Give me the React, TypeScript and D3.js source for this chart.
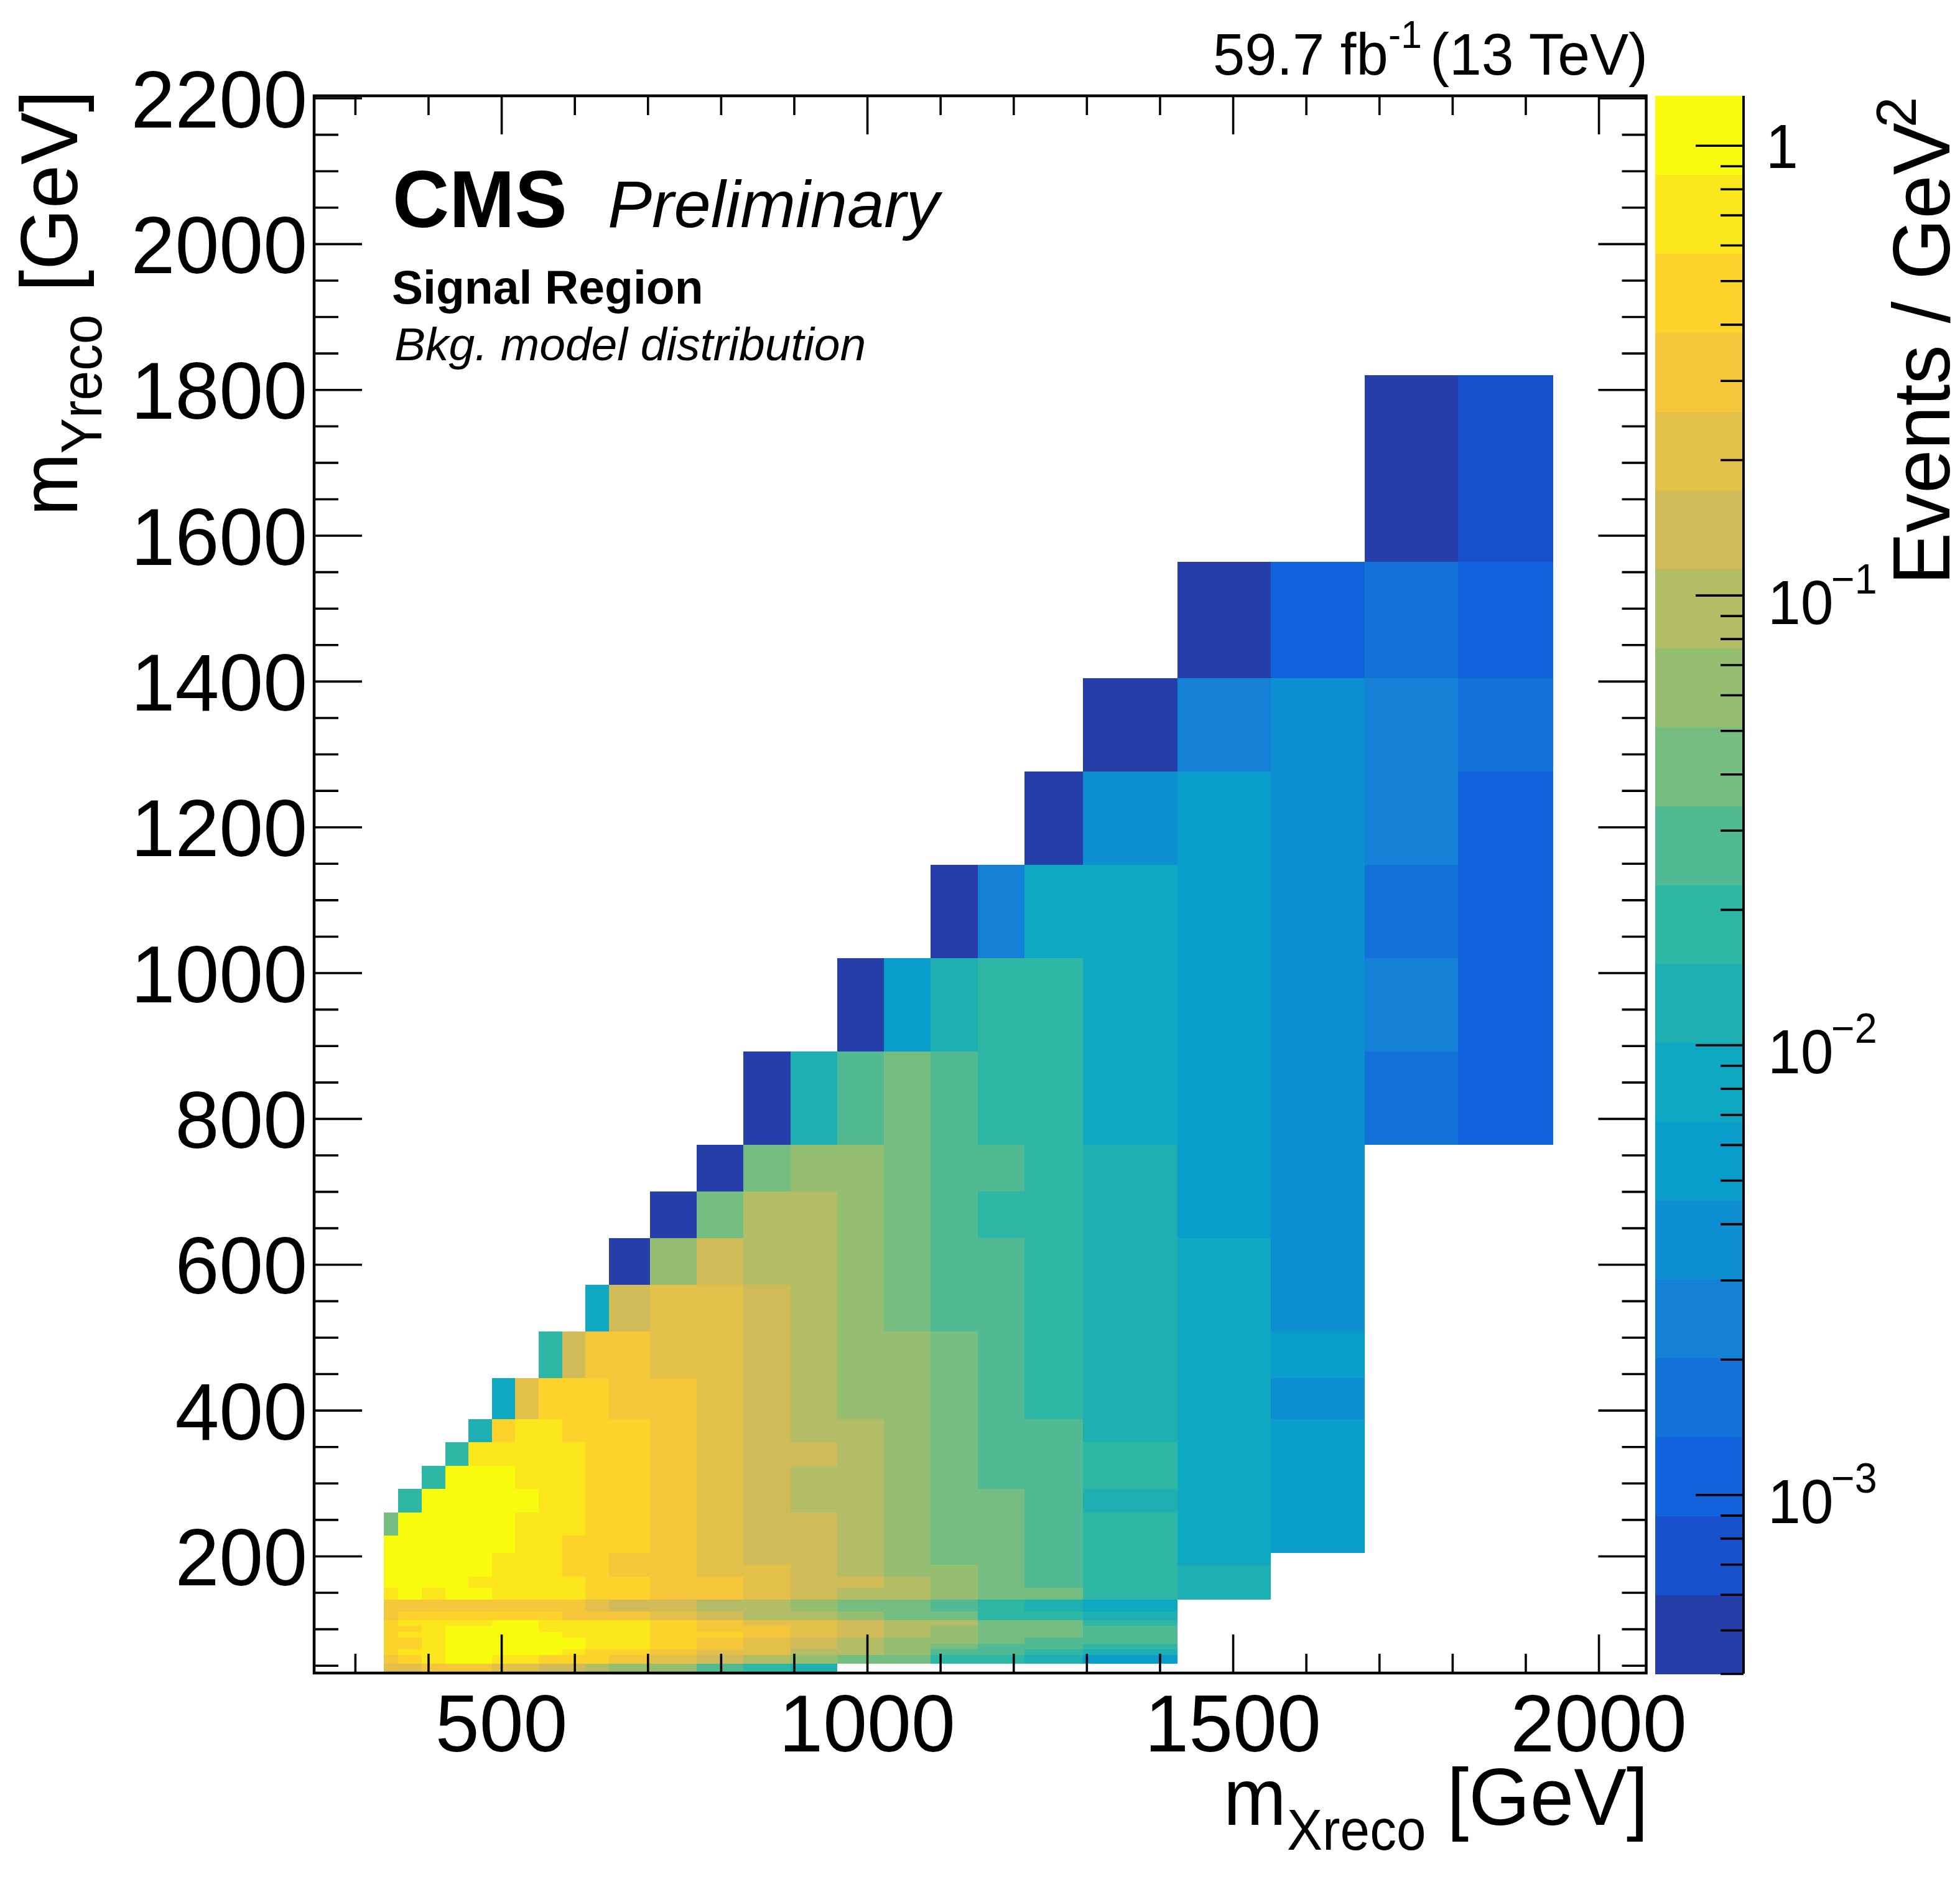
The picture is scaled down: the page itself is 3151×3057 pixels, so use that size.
import { useRef, useEffect } from "react";
import * as d3 from "d3";

const _ = -1;

// Bin edges in GeV
const xEdges = [
  339, 359, 391, 423, 455, 487, 519, 551, 583, 615, 647, 703, 767, 831, 895,
  959, 1023, 1087, 1151, 1215, 1295, 1424, 1552, 1680, 1808, 1938,
];
const yEdges = [
  40, 52, 64, 72, 80, 88, 96, 104, 112, 124, 140, 156, 172, 188, 204, 228, 260,
  292, 324, 356, 388, 444, 508, 572, 636, 700, 764, 892, 1020, 1148, 1276, 1404,
  1564, 1820,
];

const binBands = [
  [15, 15, 16, 16, 16, 15, 15, 14, 14, 13, 12, 12, 10, 9, 8, _, _, _, _, _, _, _, _, _, _],
  [16, 17, 18, 19, 19, 18, 18, 17, 17, 17, 16, 15, 14, 13, 12, 11, 11, 9, 9, 8, 6, _, _, _, _],
  [17, 18, 18, 19, 19, 19, 19, 19, 18, 17, 17, 16, 15, 15, 13, 13, 12, 10, 10, 9, 8, _, _, _, _],
  [17, 17, 18, 19, 19, 19, 19, 19, 19, 18, 18, 17, 16, 15, 14, 13, 12, 11, 10, 10, 9, _, _, _, _],
  [17, 17, 18, 19, 19, 19, 19, 19, 19, 18, 18, 17, 16, 15, 14, 13, 12, 12, 11, 10, 10, _, _, _, _],
  [17, 18, 18, 19, 19, 19, 19, 19, 18, 18, 18, 17, 17, 16, 15, 14, 13, 12, 11, 11, 10, _, _, _, _],
  [17, 17, 18, 19, 19, 19, 19, 18, 18, 18, 18, 17, 16, 16, 15, 14, 13, 12, 11, 11, 10, _, _, _, _],
  [17, 18, 18, 18, 18, 19, 19, 18, 18, 18, 18, 17, 16, 15, 15, 14, 13, 13, 11, 11, 9, _, _, _, _],
  [16, 17, 17, 17, 17, 17, 17, 17, 16, 16, 16, 15, 14, 13, 13, 12, 11, 11, 9, 9, 8, _, _, _, _],
  [16, 16, 16, 16, 16, 16, 16, 16, 16, 15, 14, 14, 13, 13, 12, 11, 11, 10, 9, 8, 7, _, _, _, _],
  [18, 19, 18, 19, 19, 18, 18, 18, 18, 17, 17, 16, 16, 15, 14, 13, 13, 12, 11, 11, 9, 8, _, _, _],
  [19, 19, 19, 19, 18, 18, 18, 18, 18, 17, 17, 16, 16, 15, 14, 14, 13, 12, 11, 10, 9, 8, _, _, _],
  [19, 19, 19, 19, 19, 18, 18, 18, 17, 17, 16, 16, 15, 15, 14, 13, 12, 12, 11, 10, 9, 8, _, _, _],
  [19, 19, 19, 19, 19, 18, 18, 18, 17, 17, 16, 16, 15, 14, 14, 13, 12, 11, 11, 10, 9, 7, _, _, _],
  [19, 19, 19, 19, 19, 19, 18, 18, 17, 17, 17, 16, 15, 14, 14, 13, 12, 11, 11, 10, 9, 7, 6, _, _],
  [11, 19, 19, 19, 19, 19, 18, 18, 18, 17, 17, 16, 15, 14, 14, 13, 12, 11, 11, 10, 9, 7, 6, _, _],
  [_, 9, 19, 19, 19, 19, 19, 18, 18, 17, 17, 16, 15, 14, 13, 13, 12, 11, 11, 10, 8, 7, 6, _, _],
  [_, _, 9, 19, 19, 19, 18, 18, 18, 17, 17, 16, 15, 14, 13, 13, 12, 11, 10, 10, 9, 7, 6, _, _],
  [_, _, _, 9, 18, 18, 18, 18, 18, 17, 17, 16, 15, 14, 14, 13, 12, 11, 10, 10, 9, 7, 6, _, _],
  [_, _, _, _, 8, 17, 18, 18, 17, 17, 17, 16, 15, 14, 13, 13, 12, 11, 10, 10, 8, 7, 6, _, _],
  [_, _, _, _, _, 7, 15, 17, 17, 17, 16, 16, 15, 14, 13, 12, 12, 11, 10, 9, 8, 7, 5, _, _],
  [_, _, _, _, _, _, _, 9, 14, 16, 16, 15, 15, 14, 13, 12, 12, 11, 10, 9, 8, 7, 6, _, _],
  [_, _, _, _, _, _, _, _, _, 7, 14, 15, 15, 14, 13, 12, 11, 10, 10, 9, 8, 7, 5, _, _],
  [_, _, _, _, _, _, _, _, _, _, 0, 12, 14, 13, 13, 12, 11, 10, 10, 9, 8, 7, 5, _, _],
  [_, _, _, _, _, _, _, _, _, _, _, 0, 11, 13, 13, 12, 11, 10, 9, 9, 8, 6, 5, _, _],
  [_, _, _, _, _, _, _, _, _, _, _, _, 0, 11, 12, 12, 11, 10, 10, 9, 8, 6, 5, _, _],
  [_, _, _, _, _, _, _, _, _, _, _, _, _, 0, 8, 10, 11, 10, 9, 9, 7, 6, 5, 3, 2],
  [_, _, _, _, _, _, _, _, _, _, _, _, _, _, _, 0, 6, 8, 9, 9, 7, 6, 5, 4, 2],
  [_, _, _, _, _, _, _, _, _, _, _, _, _, _, _, _, _, 0, 4, 7, 7, 6, 5, 3, 2],
  [_, _, _, _, _, _, _, _, _, _, _, _, _, _, _, _, _, _, _, 0, 5, 6, 5, 4, 2],
  [_, _, _, _, _, _, _, _, _, _, _, _, _, _, _, _, _, _, _, _, 0, 4, 5, 4, 3],
  [_, _, _, _, _, _, _, _, _, _, _, _, _, _, _, _, _, _, _, _, _, 0, 2, 3, 2],
  [_, _, _, _, _, _, _, _, _, _, _, _, _, _, _, _, _, _, _, _, _, _, _, 0, 1],
];

const xMajor = [500, 1000, 1500, 2000];
const xMinor = [300, 400, 600, 700, 800, 900, 1100, 1200, 1300, 1400, 1600, 1700, 1800, 1900];
const yMajor = [200, 400, 600, 800, 1000, 1200, 1400, 1600, 1800, 2000, 2200];
const yMinor = d3.range(50, 2200, 50).filter((v) => v % 200 !== 0);
const zLabels = [
  { value: 1, base: "1", exp: "" },
  { value: 0.1, base: "10", exp: "\u22121" },
  { value: 0.01, base: "10", exp: "\u22122" },
  { value: 0.001, base: "10", exp: "\u22123" },
];

// ROOT kBird palette stops
const birdStops = [
  "#352A87", "#0F5CDD", "#1481D6", "#06A4CA", "#2EB7A4", "#87BF77", "#D1BB59", "#FEC832", "#F9FB0E",
];
const nBands = 20;

const FONT = "'Liberation Sans', Arial, sans-serif";

export default function App() {
  const svgRef = useRef<SVGSVGElement>(null);

  useEffect(() => {
    if (!svgRef.current) return;
    const svg = d3.select(svgRef.current);
    svg.selectAll("*").remove();

    const left = 505, right = 2646.5, top = 154, bottom = 2689;
    const barL = 2661, barR = 2803, barB = 2690;

    const x = d3.scaleLinear().domain([244, 2065]).range([left, right]);
    const y = d3.scaleLinear().domain([39.5, 2203]).range([bottom, top]);
    const z = d3.scaleLog().domain([4.0e-4, 1.289]).range([barB, top]);
    const bandY = d3.scaleLinear().domain([0, nBands]).range([barB, top]);
    const bird = d3
      .scaleLinear<string>()
      .domain(birdStops.map((_s, i) => i / (birdStops.length - 1)))
      .range(birdStops);
    const bandColor = (b: number) => bird((b + 1) / nBands);

    // 2D histogram bins
    const cells = binBands.flatMap((row, r) =>
      row.map((band, c) => ({ band, r, c })).filter((d) => d.band >= 0),
    );
    svg
      .append("g")
      .attr("shape-rendering", "crispEdges")
      .selectAll("rect")
      .data(cells)
      .join("rect")
      .attr("x", (d) => x(xEdges[d.c]))
      .attr("y", (d) => y(yEdges[d.r + 1]))
      .attr("width", (d) => x(xEdges[d.c + 1]) - x(xEdges[d.c]))
      .attr("height", (d) => y(yEdges[d.r]) - y(yEdges[d.r + 1]))
      .attr("fill", (d) => bandColor(d.band));

    // Frame ticks on all four sides
    const drawTicks = (pos: string, axis: any, values: number[], size: number) => {
      const g = svg
        .append("g")
        .attr("transform", pos)
        .call(axis.tickValues(values).tickSize(-size).tickFormat(() => ""));
      g.select(".domain").remove();
      g.selectAll(".tick line").attr("stroke", "#000").attr("stroke-width", 3.6);
    };
    drawTicks(`translate(0,${bottom})`, d3.axisBottom(x), xMajor, 62);
    drawTicks(`translate(0,${bottom})`, d3.axisBottom(x), xMinor, 31);
    drawTicks(`translate(0,${top})`, d3.axisTop(x), xMajor, 62);
    drawTicks(`translate(0,${top})`, d3.axisTop(x), xMinor, 31);
    drawTicks(`translate(${left},0)`, d3.axisLeft(y), yMajor, 77);
    drawTicks(`translate(${left},0)`, d3.axisLeft(y), yMinor, 39);
    drawTicks(`translate(${right},0)`, d3.axisRight(y), yMajor, 77);
    drawTicks(`translate(${right},0)`, d3.axisRight(y), yMinor, 39);

    svg
      .append("rect")
      .attr("x", left)
      .attr("y", top)
      .attr("width", right - left)
      .attr("height", bottom - top)
      .attr("fill", "none")
      .attr("stroke", "#000")
      .attr("stroke-width", 4.5);

    // Colour bar
    svg
      .append("g")
      .attr("shape-rendering", "crispEdges")
      .selectAll("rect")
      .data(d3.range(nBands))
      .join("rect")
      .attr("x", barL)
      .attr("y", (b) => bandY(b + 1))
      .attr("width", barR - barL)
      .attr("height", (b) => bandY(b) - bandY(b + 1) + 0.5)
      .attr("fill", (b) => bandColor(b));
    const isDecade = (v: number) => Math.abs(Math.log10(v) - Math.round(Math.log10(v))) < 1e-9;
    const zTicks = z.ticks();
    drawTicks(`translate(${barR},0)`, d3.axisRight(z), zTicks.filter(isDecade), 77);
    drawTicks(`translate(${barR},0)`, d3.axisRight(z), zTicks.filter((v) => !isDecade(v)), 37);
    svg
      .append("line")
      .attr("x1", barR)
      .attr("x2", barR)
      .attr("y1", top)
      .attr("y2", barB)
      .attr("stroke", "#000")
      .attr("stroke-width", 4);

    // Text helper: ROOT's Helvetica renders a little narrower than its height
    const label = (
      text: string,
      px: number,
      py: number,
      size: number,
      opts: { sx?: number; anchor?: string; weight?: string; italic?: boolean; rot?: number } = {},
    ) => {
      const { sx = 0.98, anchor = "start", weight = "normal", italic = false, rot = 0 } = opts;
      svg
        .append("text")
        .attr("transform", `translate(${px},${py}) rotate(${rot}) scale(${sx},1)`)
        .attr("text-anchor", anchor)
        .attr("font-family", FONT)
        .attr("font-size", size)
        .attr("font-weight", weight)
        .attr("font-style", italic ? "italic" : "normal")
        .attr("fill", "#000")
        .text(text);
    };

    // Tick labels
    xMajor.forEach((v) => label(String(v), x(v), 2815, 130, { anchor: "middle" }));
    yMajor.forEach((v) => label(String(v), 494, y(v) + 47, 130, { anchor: "end" }));
    zLabels.forEach((d) => {
      const ty = z(d.value);
      if (d.exp) {
        label(d.base, 2842, ty + 46, 100, { sx: 0.95 });
        label(d.exp, 2944, ty - 3, 68, { sx: 0.95 });
      } else {
        label(d.base, 2839, ty + 36, 100, { sx: 0.93 });
      }
    });

    // Axis titles
    label("m", 1967, 2933, 130, { sx: 0.93 });
    label("Xreco", 2069, 2973, 92, { sx: 0.93 });
    label("[GeV]", 2326, 2933, 130, { sx: 0.975 });
    label("m", 124, 829, 130, { rot: -90, sx: 0.93 });
    label("Yreco", 163, 729, 92, { rot: -90, sx: 0.93 });
    label("[GeV]", 124, 469, 130, { rot: -90, sx: 0.975 });
    label("Events / GeV", 3134, 940, 130, { rot: -90, sx: 0.97 });
    label("2", 3080, 205, 90, { rot: -90, sx: 0.98 });

    // CMS labels
    label("CMS", 631, 365, 130, { weight: "bold", sx: 0.972 });
    label("Preliminary", 977, 365, 105, { italic: true, sx: 1.015 });
    label("Signal Region", 630, 488, 76, { weight: "bold", sx: 0.988 });
    label("Bkg. model distribution", 634, 579, 74, { italic: true, sx: 1.013 });

    // Luminosity label
    label("59.7 fb", 1950, 120, 94, { sx: 0.98 });
    label("-1", 2232, 77, 63, { sx: 0.96 });
    label("(13 TeV)", 2299, 120, 94, { sx: 0.99 });

    return () => {
      svg.selectAll("*").remove();
    };
  }, []);

  return (
    <svg
      ref={svgRef}
      width={3151}
      height={3057}
      style={{ position: "absolute", left: 0, top: 0, background: "#fff" }}
    />
  );
}
